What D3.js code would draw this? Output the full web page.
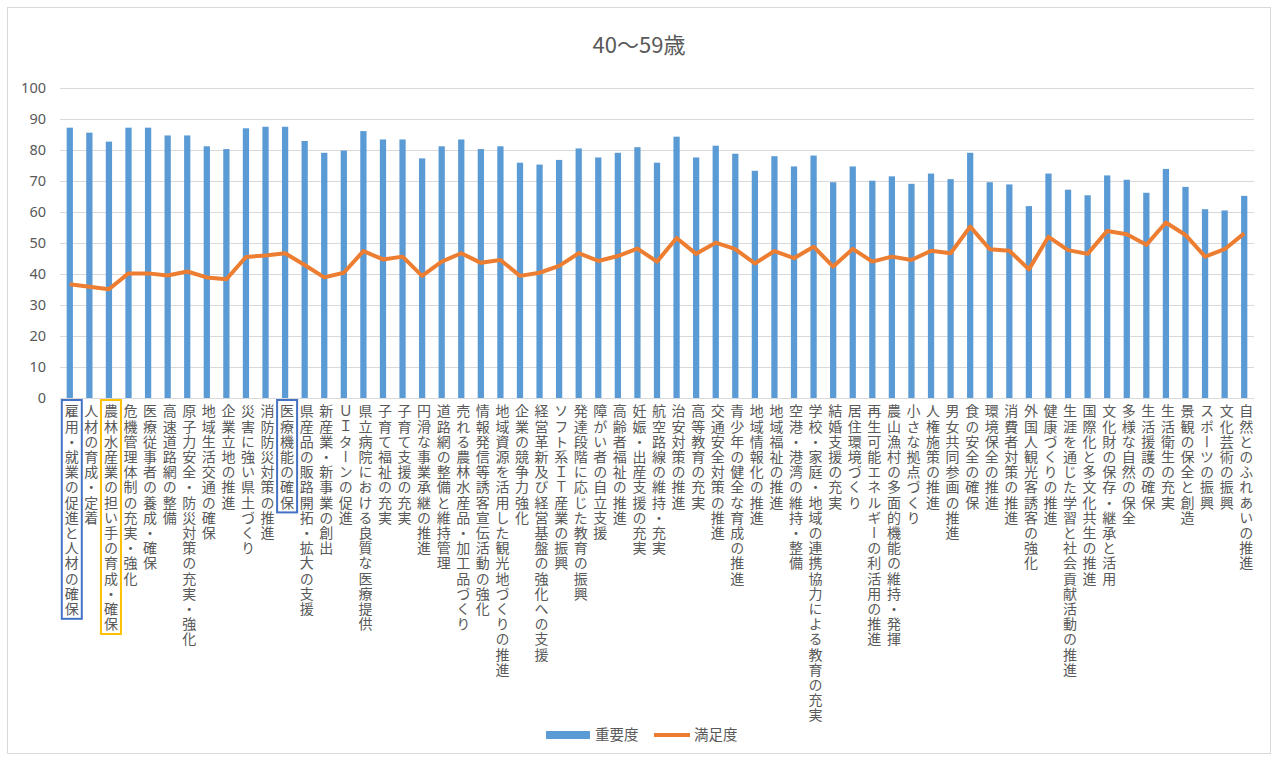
<!DOCTYPE html>
<html lang="ja">
<head>
<meta charset="utf-8">
<title>40〜59歳</title>
<script src="https://cdn.jsdelivr.net/npm/d3@7"></script>
<style>
  html, body { margin: 0; padding: 0; background: #fff; }
  svg { display: block; }
  .tick-label { font-family: "Noto Sans", "Noto Sans CJK JP", sans-serif; font-size: 14.5px; fill: #595959; }
  .cat-label { font-family: "Noto Sans CJK JP", sans-serif; font-size: 14px; fill: #595959; writing-mode: vertical-rl; letter-spacing: 1.2px; }
  .title { font-family: "Noto Sans CJK JP", sans-serif; font-size: 22px; fill: #595959; }
  .legend-text { font-family: "Noto Sans CJK JP", sans-serif; font-size: 14.5px; fill: #595959; }
</style>
</head>
<body>
<svg id="chart" width="1278" height="761"></svg>
<script>
// 項目名
const categories = [
  "雇用・就業の促進と人材の確保", "人材の育成・定着", "農林水産業の担い手の育成・確保",
  "危機管理体制の充実・強化", "医療従事者の養成・確保", "高速道路網の整備",
  "原子力安全・防災対策の充実・強化", "地域生活交通の確保", "企業立地の推進",
  "災害に強い県土づくり", "消防防災対策の推進", "医療機能の確保",
  "県産品の販路開拓・拡大の支援", "新産業・新事業の創出", "ＵＩターンの促進",
  "県立病院における良質な医療提供", "子育て福祉の充実", "子育て支援の充実",
  "円滑な事業承継の推進", "道路網の整備と維持管理", "売れる農林水産品・加工品づくり",
  "情報発信等誘客宣伝活動の強化", "地域資源を活用した観光地づくりの推進", "企業の競争力強化",
  "経営革新及び経営基盤の強化への支援", "ソフト系ＩＴ産業の振興", "発達段階に応じた教育の振興",
  "障がい者の自立支援", "高齢者福祉の推進", "妊娠・出産支援の充実",
  "航空路線の維持・充実", "治安対策の推進", "高等教育の充実",
  "交通安全対策の推進", "青少年の健全な育成の推進", "地域情報化の推進",
  "地域福祉の推進", "空港・港湾の維持・整備", "学校・家庭・地域の連携協力による教育の充実",
  "結婚支援の充実", "居住環境づくり", "再生可能エネルギーの利活用の推進",
  "農山漁村の多面的機能の維持・発揮", "小さな拠点づくり", "人権施策の推進",
  "男女共同参画の推進", "食の安全の確保", "環境保全の推進",
  "消費者対策の推進", "外国人観光客誘客の強化", "健康づくりの推進",
  "生涯を通じた学習と社会貢献活動の推進", "国際化と多文化共生の推進", "文化財の保存・継承と活用",
  "多様な自然の保全", "生活援護の確保", "生活衛生の充実",
  "景観の保全と創造", "スポーツの振興", "文化芸術の振興",
  "自然とのふれあいの推進"
];

// 重要度
const importance = [
  87.2, 85.6, 82.7, 87.2, 87.2, 84.7, 84.7, 81.2, 80.3, 87.0,
  87.5, 87.5, 82.9, 79.1, 79.8, 86.1, 83.4, 83.4, 77.3, 81.2,
  83.4, 80.3, 81.2, 75.9, 75.3, 76.8, 80.5, 77.6, 79.1, 80.9,
  75.9, 84.3, 77.6, 81.4, 78.8, 73.3, 78.0, 74.7, 78.2, 69.6,
  74.7, 70.1, 71.5, 69.1, 72.4, 70.6, 79.1, 69.6, 68.9, 61.9,
  72.4, 67.2, 65.4, 71.8, 70.4, 66.2, 73.9, 68.1, 60.9, 60.5,
  65.2
];

// 満足度
const satisfaction = [
  36.7, 35.9, 35.1, 40.2, 40.2, 39.5, 40.8, 38.9, 38.3, 45.5,
  46.0, 46.7, 42.9, 38.9, 40.4, 47.4, 44.7, 45.6, 39.4, 44.0,
  46.7, 43.6, 44.5, 39.4, 40.4, 42.6, 46.7, 44.2, 45.8, 48.2,
  44.0, 51.6, 46.5, 50.1, 48.0, 43.4, 47.4, 45.1, 48.8, 42.4,
  48.1, 44.0, 45.6, 44.5, 47.5, 46.7, 55.3, 48.0, 47.5, 41.5,
  52.0, 47.7, 46.5, 53.9, 52.8, 49.4, 56.6, 52.6, 45.6, 48.0,
  53.1
];

const yTicks = [0, 10, 20, 30, 40, 50, 60, 70, 80, 90, 100];

// 枠で囲む項目
const boxed = [
  { name: "雇用・就業の促進と人材の確保", color: "#4472C4" },
  { name: "農林水産業の担い手の育成・確保", color: "#FFC000" },
  { name: "医療機能の確保", color: "#4472C4" }
];

const width = 1278, height = 761;
const margin = { top: 88, right: 24, bottom: 363, left: 60 };
const plotW = width - margin.left - margin.right;

const svg = d3.select("#chart");

// 外枠
svg.append("rect")
  .attr("x", 7.5).attr("y", 7.5)
  .attr("width", width - 15).attr("height", height - 15)
  .attr("fill", "#fff").attr("stroke", "#d9d9d9");

const x = d3.scaleBand()
  .domain(categories)
  .range([margin.left, margin.left + plotW])
  .paddingInner(0.68)
  .paddingOuter(0.34);

const y = d3.scaleLinear().domain([0, 100]).range([398, 88]);

// グリッド線
svg.append("g")
  .selectAll("line")
  .data(yTicks)
  .join("line")
  .attr("x1", margin.left)
  .attr("x2", margin.left + plotW)
  .attr("y1", d => y(d) + 0.5)
  .attr("y2", d => y(d) + 0.5)
  .attr("stroke", "#d9d9d9");

// Y軸ラベル
svg.append("g")
  .selectAll("text")
  .data(yTicks)
  .join("text")
  .attr("class", "tick-label")
  .attr("x", 46)
  .attr("y", d => y(d) + 5)
  .attr("text-anchor", "end")
  .text(d => d);

// 棒（重要度）
svg.append("g")
  .selectAll("rect")
  .data(categories)
  .join("rect")
  .attr("x", d => x(d))
  .attr("y", (d, i) => y(importance[i]))
  .attr("width", x.bandwidth())
  .attr("height", (d, i) => y(0) - y(importance[i]))
  .attr("fill", "#5B9BD5");

// 折れ線（満足度）
const line = d3.line()
  .x((d, i) => x(categories[i]) + x.bandwidth() / 2)
  .y(d => y(d));

svg.append("path")
  .datum(satisfaction)
  .attr("d", line)
  .attr("fill", "none")
  .attr("stroke", "#ED7D31")
  .attr("stroke-width", 4)
  .attr("stroke-linejoin", "round");

// カテゴリーラベル（縦書き）
const labelTop = 404;
svg.append("g")
  .selectAll("text")
  .data(categories)
  .join("text")
  .attr("class", "cat-label")
  .attr("x", d => x(d) + x.bandwidth() / 2 + 2)
  .attr("y", labelTop)
  .text(d => d);

// 強調枠
svg.append("g")
  .selectAll("rect")
  .data(boxed)
  .join("rect")
  .attr("x", d => x(d.name) + x.bandwidth() / 2 - 8)
  .attr("y", 400)
  .attr("width", 20)
  .attr("height", function(d) {
    const t = svg.selectAll(".cat-label").filter(c => c === d.name).node();
    return t.getBBox().height + 6;
  })
  .attr("fill", "none")
  .attr("stroke", d => d.color)
  .attr("stroke-width", 2);

// タイトル
svg.append("text")
  .attr("class", "title")
  .attr("x", width / 2)
  .attr("y", 53)
  .attr("text-anchor", "middle")
  .text("40〜59歳");

// 凡例
const legend = svg.append("g");
legend.append("rect")
  .attr("x", 546).attr("y", 731)
  .attr("width", 44).attr("height", 8)
  .attr("fill", "#5B9BD5");
legend.append("text")
  .attr("class", "legend-text")
  .attr("x", 595).attr("y", 740)
  .text("重要度");
legend.append("line")
  .attr("x1", 654).attr("x2", 690)
  .attr("y1", 735).attr("y2", 735)
  .attr("stroke", "#ED7D31")
  .attr("stroke-width", 4);
legend.append("text")
  .attr("class", "legend-text")
  .attr("x", 694).attr("y", 740)
  .text("満足度");
</script>
</body>
</html>
